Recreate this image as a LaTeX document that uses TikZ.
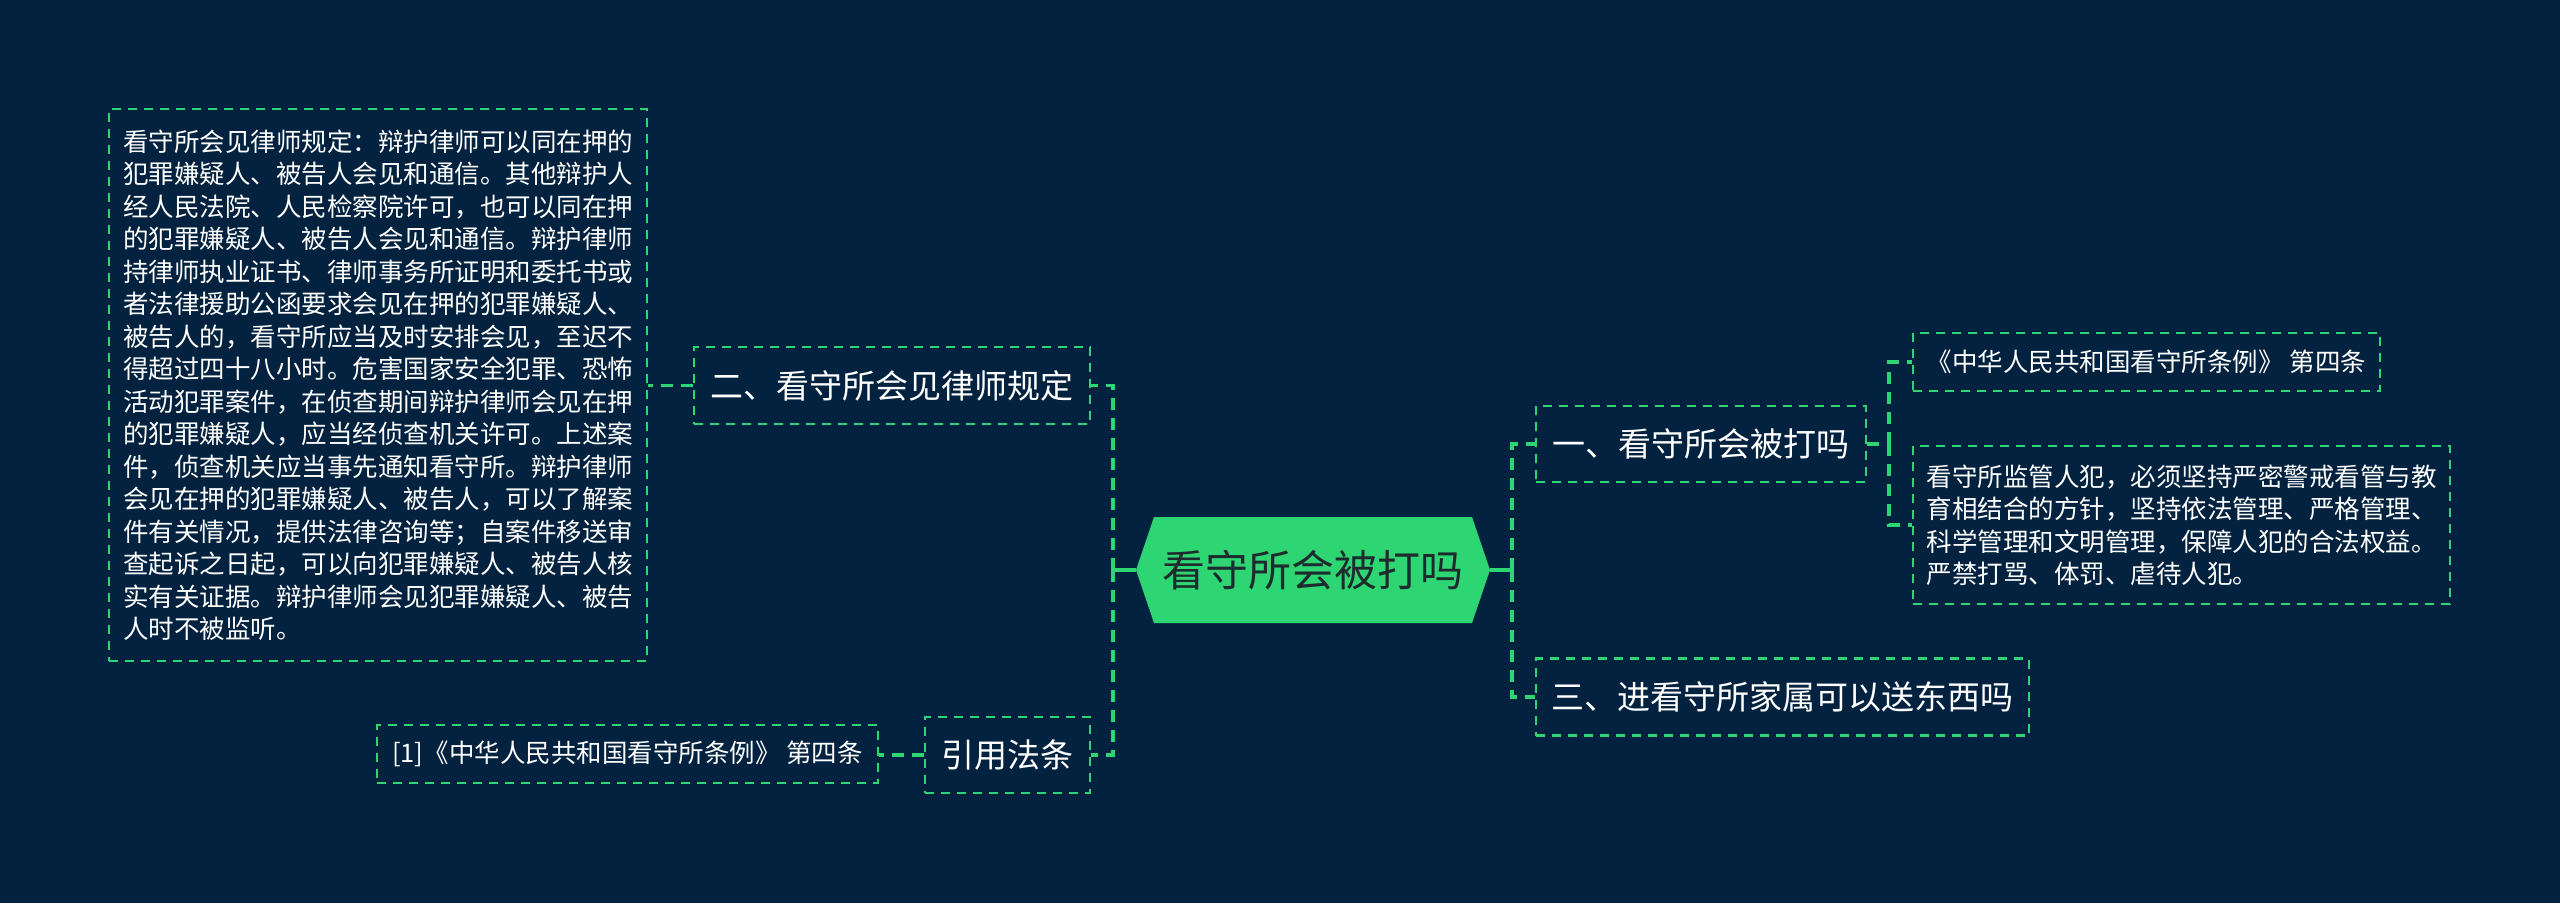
\documentclass[tikz,border=0pt]{standalone}
\usepackage{fontspec}
\setmainfont{Noto Sans CJK SC}
\definecolor{bg}{HTML}{02223F}
\definecolor{grn}{HTML}{2ED573}
\definecolor{ctrtext}{HTML}{1E2B2E}
\tikzset{
  box/.style={draw=grn, line width=2.2pt, dash pattern=on 9pt off 7pt, inner sep=0pt, text=white},
  small/.style={font=\fontsize{25.5pt}{32.5pt}\selectfont},
  mid/.style={font=\fontsize{33pt}{40pt}\selectfont},
  conn/.style={draw=grn, line width=3.4pt, dash pattern=on 12pt off 8pt},
  stub/.style={draw=grn, line width=3.4pt},
}
\begin{document}
\begin{tikzpicture}[x=1pt,y=-1pt]
\fill[bg] (0,0) rectangle (2560,903);
\useasboundingbox (0,0) rectangle (2560,903);

% central node
\fill[grn] (1136,570) -- (1154,517) -- (1472,517) -- (1490,570) -- (1472,623) -- (1154,623) -- cycle;
\node[inner sep=0pt, minimum width=354pt, minimum height=106pt, text=ctrtext,
      font=\fontsize{43pt}{50pt}\selectfont] (ctr) at (1313,570) {看守所会被打吗};

% left branch
\node[box,mid,minimum width=396pt,minimum height=77pt] (t2) at (892,385.5) {二、看守所会见律师规定};
\node[box,small,align=left,minimum width=538pt,minimum height=552pt] (law) at (378,385) {%
看守所会见律师规定：辩护律师可以同在押的\\
犯罪嫌疑人、被告人会见和通信。其他辩护人\\
经人民法院、人民检察院许可，也可以同在押\\
的犯罪嫌疑人、被告人会见和通信。辩护律师\\
持律师执业证书、律师事务所证明和委托书或\\
者法律援助公函要求会见在押的犯罪嫌疑人、\\
被告人的，看守所应当及时安排会见，至迟不\\
得超过四十八小时。危害国家安全犯罪、恐怖\\
活动犯罪案件，在侦查期间辩护律师会见在押\\
的犯罪嫌疑人，应当经侦查机关许可。上述案\\
件，侦查机关应当事先通知看守所。辩护律师\\
会见在押的犯罪嫌疑人、被告人，可以了解案\\
件有关情况，提供法律咨询等；自案件移送审\\
查起诉之日起，可以向犯罪嫌疑人、被告人核\\
实有关证据。辩护律师会见犯罪嫌疑人、被告\\
人时不被监听。};
\node[box,mid,minimum width=165pt,minimum height=76pt] (cite) at (1007.5,755) {引用法条};
\node[box,small,minimum width=501pt,minimum height=58pt] (ref) at (627.5,754) {[1]《中华人民共和国看守所条例》 第四条};

% right branch
\node[box,mid,minimum width=330pt,minimum height=76pt] (t1) at (1701,444) {一、看守所会被打吗};
\node[box,mid,minimum width=493pt,minimum height=77pt] (t3) at (1782.5,697) {三、进看守所家属可以送东西吗};
\node[box,small,minimum width=467pt,minimum height=58pt] (art) at (2146.5,362) {《中华人民共和国看守所条例》 第四条};
\node[box,small,align=left,minimum width=537pt,minimum height=158pt] (note) at (2181.5,525) {%
看守所监管人犯，必须坚持严密警戒看管与教\\
育相结合的方针，坚持依法管理、严格管理、\\
科学管理和文明管理，保障人犯的合法权益。\\
严禁打骂、体罚、虐待人犯。};

% junctions
\coordinate (jl) at (1113,570);
\coordinate (jr) at (1512,570);
\coordinate (j2) at (1889,444);

% connectors
\draw[stub] (ctr.west) -- (jl);
\draw[conn] (jl) |- (t2.east);
\draw[conn] (jl) |- (cite.east);
\draw[conn] (t2.west) -- (law.east |- t2.west);
\draw[conn] (cite.west) -- (ref.east |- cite.west);

\draw[stub] (ctr.east) -- (jr);
\draw[conn] (jr) |- (t1.west);
\draw[conn] (jr) |- (t3.west);
\draw[conn] (t1.east) -- (j2);
\draw[conn] (j2) |- (art.west);
\draw[conn] (j2) |- (note.west);
\end{tikzpicture}
\end{document}
